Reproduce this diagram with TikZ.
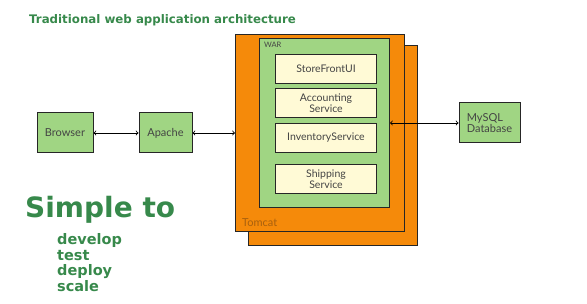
\documentclass[tikz,border=0pt]{standalone}
\usepackage{fontspec}
\setmainfont{Lato}
\newfontfamily\headfont{DejaVu Sans}
\usetikzlibrary{arrows,positioning}
\tikzset{>=to}
\definecolor{headgreen}{HTML}{37894B}
\definecolor{compgreen}{HTML}{A0D583}
\definecolor{tomcatorange}{HTML}{F58A0A}
\definecolor{tomcattext}{HTML}{A8600E}
\definecolor{svccream}{HTML}{FFFAD6}
\definecolor{labelgrey}{HTML}{444444}
\tikzstyle{comp}=[rectangle,draw=black!85,fill=compgreen,line width=1pt,text=labelgrey,align=left,font=\fontsize{11}{11.5}\selectfont]
\tikzstyle{service}=[rectangle,draw=black!85,fill=svccream,line width=1pt,text=labelgrey,align=center,minimum width=101pt,minimum height=29pt,font=\fontsize{10.5}{11}\selectfont]
\tikzstyle{container}=[rectangle,draw=black!85,line width=1pt,anchor=north west]
\tikzstyle{link}=[<->,line width=0.9pt]

\begin{document}
\begin{tikzpicture}[x=1pt,y=-1pt,inner sep=1pt]
	\useasboundingbox (0,0) rectangle (587,304);
	\def \svcx {326};

	\node[anchor=west,text=headgreen,font=\headfont\bfseries\fontsize{11.8}{13}\selectfont] (title) at (28,20) {Traditional web application architecture};

	% tomcat with a second instance behind it
	\node[container,fill=tomcatorange,minimum width=169pt,minimum height=200pt] (tomcatback) at (248,45) {};
	\node[container,fill=tomcatorange,minimum width=169pt,minimum height=197pt] (tomcat) at (235,34) {};
	\node[anchor=west,text=tomcattext,font=\fontsize{11}{12}\selectfont] (tomcatlabel) at (241,223) {Tomcat};

	\node[container,fill=compgreen,minimum width=130pt,minimum height=169pt] (war) at (259,38) {};
	\node[anchor=west,text=labelgrey,font=\fontsize{7.5}{8}\selectfont] (warlabel) at (263,45) {WAR};

	\foreach \i/\y/\txt in {1/69/StoreFrontUI, 2/103/{Accounting\\Service}, 3/138/InventoryService, 4/179/{Shipping\\Service}} {
		\node[service] (svc\i) at (\svcx, \y) {\txt};
	};

	\node[comp,minimum width=56pt,minimum height=40pt] (browser) at (65,133) {Browser};
	\node[comp,minimum width=53pt,minimum height=40pt] (apache) at (165.5,133) {Apache};
	\node[comp,minimum width=61pt,minimum height=40pt] (mysql) at (489.5,123) {MySQL\\Database};

	\draw[link] (browser) -- (apache);
	\draw[link] (apache) -- (tomcat.west);
	\draw[link] (war.east) -- (mysql);

	\node[anchor=base west,text=headgreen,font=\headfont\bfseries\fontsize{28}{30}\selectfont] (simple) at (24,218) {Simple to};
	\foreach \w/\y in {develop/245, test/260.5, deploy/276, scale/291.5} {
		\node[anchor=base west,text=headgreen,font=\headfont\bfseries\fontsize{14.5}{16}\selectfont] (\w) at (56,\y) {\w};
	};
\end{tikzpicture}
\end{document}
